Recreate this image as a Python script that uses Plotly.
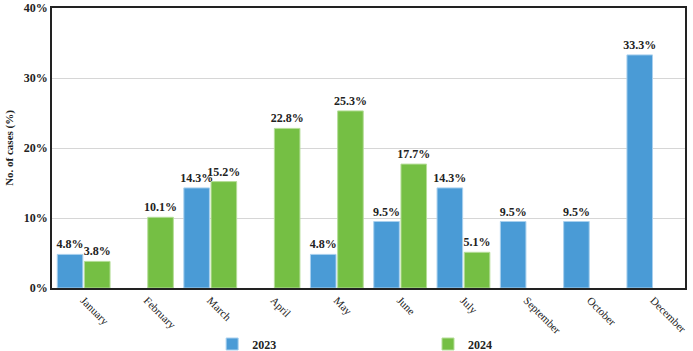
import plotly.graph_objects as go

months = ["January", "February", "March", "April", "May", "June", "July",
          "September", "October", "December"]
cases_2023 = [4.8, None, 14.3, None, 4.8, 9.5, 14.3, 9.5, 9.5, 33.3]
cases_2024 = [3.8, 10.1, 15.2, 22.8, 25.3, 17.7, 5.1, None, None, None]
y_ticks = [0, 10, 20, 30, 40]

FONT = "Liberation Serif"

def labels(vals):
    return [f"<b>{v:.1f}%</b>" if v is not None else "" for v in vals]

fig = go.Figure()
fig.add_trace(go.Bar(x=months, y=cases_2023, name="<b>2023</b>", marker_color="#4A9BD6",
                     marker_line=dict(color="#A9D0EE", width=1),
                     text=labels(cases_2023), textposition="outside", constraintext="none",
                     textfont=dict(family=FONT, size=12, color="#222"), cliponaxis=False,
                     legend="legend", showlegend=True))
fig.add_trace(go.Bar(x=months, y=cases_2024, name="<b>2024</b>", marker_color="#75BF44",
                     marker_line=dict(color="#B5DD98", width=1),
                     text=labels(cases_2024), textposition="outside", constraintext="none",
                     textfont=dict(family=FONT, size=12, color="#222"), cliponaxis=False,
                     legend="legend2", showlegend=True))

leg_common = dict(orientation="h", xanchor="left", y=-0.2, yanchor="middle",
                  font=dict(family=FONT, size=12, color="#222"), bgcolor="rgba(0,0,0,0)")
fig.update_layout(
    width=693, height=351,
    margin=dict(l=52, r=8, t=8, b=63, autoexpand=False),
    paper_bgcolor="white", plot_bgcolor="white",
    barmode="group", bargap=0.14, bargroupgap=0.06,
    showlegend=True,
    font=dict(family=FONT, color="#222"),
    legend=dict(x=0.253, **leg_common),
    legend2=dict(x=0.594, **leg_common),
)
fig.update_xaxes(tickangle=45, tickfont=dict(family=FONT, size=11, color="#222"),
                 showline=True, linecolor="#222", linewidth=1.5, mirror=True,
                 ticks="", showgrid=False, automargin=False, ticklabeloverflow="allow")
fig.update_yaxes(range=[0, 40], tickvals=y_ticks,
                 ticktext=[f"<b>{t}%</b>" for t in y_ticks],
                 tickfont=dict(family=FONT, size=12, color="#222"),
                 title=dict(text="<b>No. of cases (%)</b>", font=dict(family=FONT, size=11, color="#222"),
                            standoff=8),
                 showline=True, linecolor="#222", linewidth=1.5, mirror=True, automargin=False,
                 ticklabeloverflow="allow",
                 showgrid=True, gridcolor="#D6D6D6", zeroline=False, ticks="")
fig.write_html("out.html")
